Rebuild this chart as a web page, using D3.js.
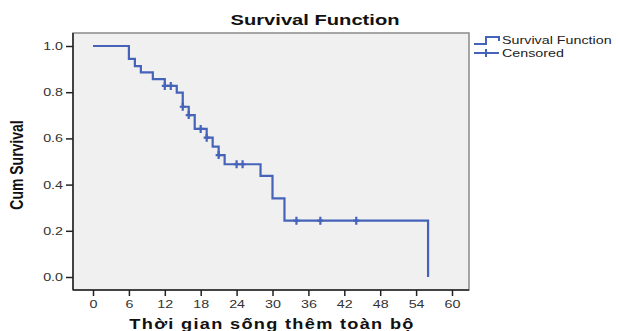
<!DOCTYPE html>
<html>
<head>
<meta charset="utf-8">
<script src="https://cdn.jsdelivr.net/npm/d3@7"></script>
<style>
  body { margin: 0; background: #fff; }
  svg { display: block; font-family: "Liberation Sans", Arial, sans-serif; }
</style>
</head>
<body>
<svg id="chart" width="620" height="331"></svg>
<script>
// step points of the Kaplan-Meier curve
const stepTimes = [0, 6, 7, 8, 10, 12, 14, 15, 16, 17, 19, 20, 21, 22, 28, 30, 32, 56];
const stepSurv = [1.0, 0.944, 0.913, 0.886, 0.857, 0.827, 0.798, 0.737, 0.701, 0.641, 0.603, 0.564, 0.528, 0.488, 0.438, 0.340, 0.244, 0.0];
const censoredTimes = [12, 13, 15, 16, 18, 19, 21, 24, 25, 34, 38, 44];
const xTicks = [0, 6, 12, 18, 24, 30, 36, 42, 48, 54, 60];
const yTicks = [0.0, 0.2, 0.4, 0.6, 0.8, 1.0];

const blue = '#4563b8';
const sx = 1.3; // the original picture is stretched sideways
const svg = d3.select('#chart');

const frame = {left: 73, right: 469, top: 33, bottom: 290};

const xscale = d3.scaleLinear().domain([0, 60]).range([93, 452]);
const yscale = d3.scaleLinear().domain([0, 1]).range([277, 46]);

function stretchText(x, y, txt, size, bold, anchor) {
    return svg.append('text')
        .attr('transform', `translate(${x},${y}) scale(${sx},1)`)
        .attr('text-anchor', anchor || 'start')
        .style('font-size', size + 'px')
        .style('font-weight', bold ? 'bold' : 'normal')
        .attr('fill', '#111')
        .text(txt);
}

// plot background
svg.append('rect')
    .attr('x', frame.left)
    .attr('y', frame.top)
    .attr('width', frame.right - frame.left)
    .attr('height', frame.bottom - frame.top)
    .attr('fill', '#f0f0f0')
    .attr('stroke', '#8a8a8a')
    .attr('stroke-width', 1.5);

// axes
const yaxis = d3.axisLeft(yscale)
    .tickValues(yTicks)
    .tickFormat(d3.format('.1f'))
    .tickSize(7)
    .tickSizeOuter(0);

const yg = svg.append('g')
    .attr('transform', `translate(${frame.left},0)`)
    .call(yaxis);
yg.select('.domain').remove();
yg.selectAll('.tick text')
    .attr('x', -10 / sx)
    .attr('transform', `scale(${sx},1)`);
yg.append('line')
    .attr('x1', 0).attr('x2', 0)
    .attr('y1', frame.top).attr('y2', frame.bottom)
    .attr('stroke', '#222').attr('stroke-width', 1.5);

const xaxis = d3.axisBottom(xscale)
    .tickValues(xTicks)
    .tickSize(6)
    .tickSizeOuter(0)
    .tickPadding(4);

const xg = svg.append('g')
    .attr('transform', `translate(0,${frame.bottom})`)
    .call(xaxis);
xg.select('.domain').remove();
xg.selectAll('.tick text')
    .attr('transform', `scale(${sx},1)`);
xg.append('line')
    .attr('x1', frame.left).attr('x2', frame.right)
    .attr('y1', 0).attr('y2', 0)
    .attr('stroke', '#222').attr('stroke-width', 1.5);

svg.selectAll('.tick line').attr('stroke', '#222').attr('stroke-width', 1.5);
svg.selectAll('.tick text')
    .style('font-size', '11px')
    .attr('fill', '#333');

// survival curve
const stepData = stepTimes.map((t, i) => ({t: t, s: stepSurv[i]}));
const line = d3.line()
    .x(d => xscale(d.t))
    .y(d => yscale(d.s))
    .curve(d3.curveStepAfter);

svg.append('path')
    .attr('d', line(stepData))
    .attr('fill', 'none')
    .attr('stroke', blue)
    .attr('stroke-width', 2.2);

// censored marks
const bis = d3.bisector(d => d).right;
const survAt = t => stepSurv[Math.max(0, bis(stepTimes, t) - 1)];

svg.selectAll('.cens')
    .data(censoredTimes)
    .join('path')
    .attr('class', 'cens')
    .attr('d', t => {
        const x = xscale(t), y = yscale(survAt(t));
        return `M${x - 3},${y}H${x + 3}M${x},${y - 4}V${y + 4}`;
    })
    .attr('stroke', blue)
    .attr('stroke-width', 2.2);

// title
stretchText(315, 25, 'Survival Function', 15.5, true, 'middle');

// axis labels
stretchText(272, 329, 'Thời gian sống thêm toàn bộ', 14, true, 'middle')
    .style('letter-spacing', '1px');

svg.append('text')
    .attr('transform', `translate(23,165) scale(${sx},1) rotate(-90)`)
    .attr('text-anchor', 'middle')
    .style('font-size', '14px')
    .style('font-weight', 'bold')
    .attr('fill', '#111')
    .text('Cum Survival');

// legend
svg.append('path')
    .attr('d', 'M474,44H486V37H499V41')
    .attr('fill', 'none')
    .attr('stroke', blue)
    .attr('stroke-width', 2);
stretchText(502, 44, 'Survival Function', 11, false).attr('fill', '#222');
svg.append('path')
    .attr('d', 'M474,53H499M486,49V57')
    .attr('fill', 'none')
    .attr('stroke', blue)
    .attr('stroke-width', 2);
stretchText(502, 57, 'Censored', 11, false).attr('fill', '#222');
</script>
</body>
</html>
